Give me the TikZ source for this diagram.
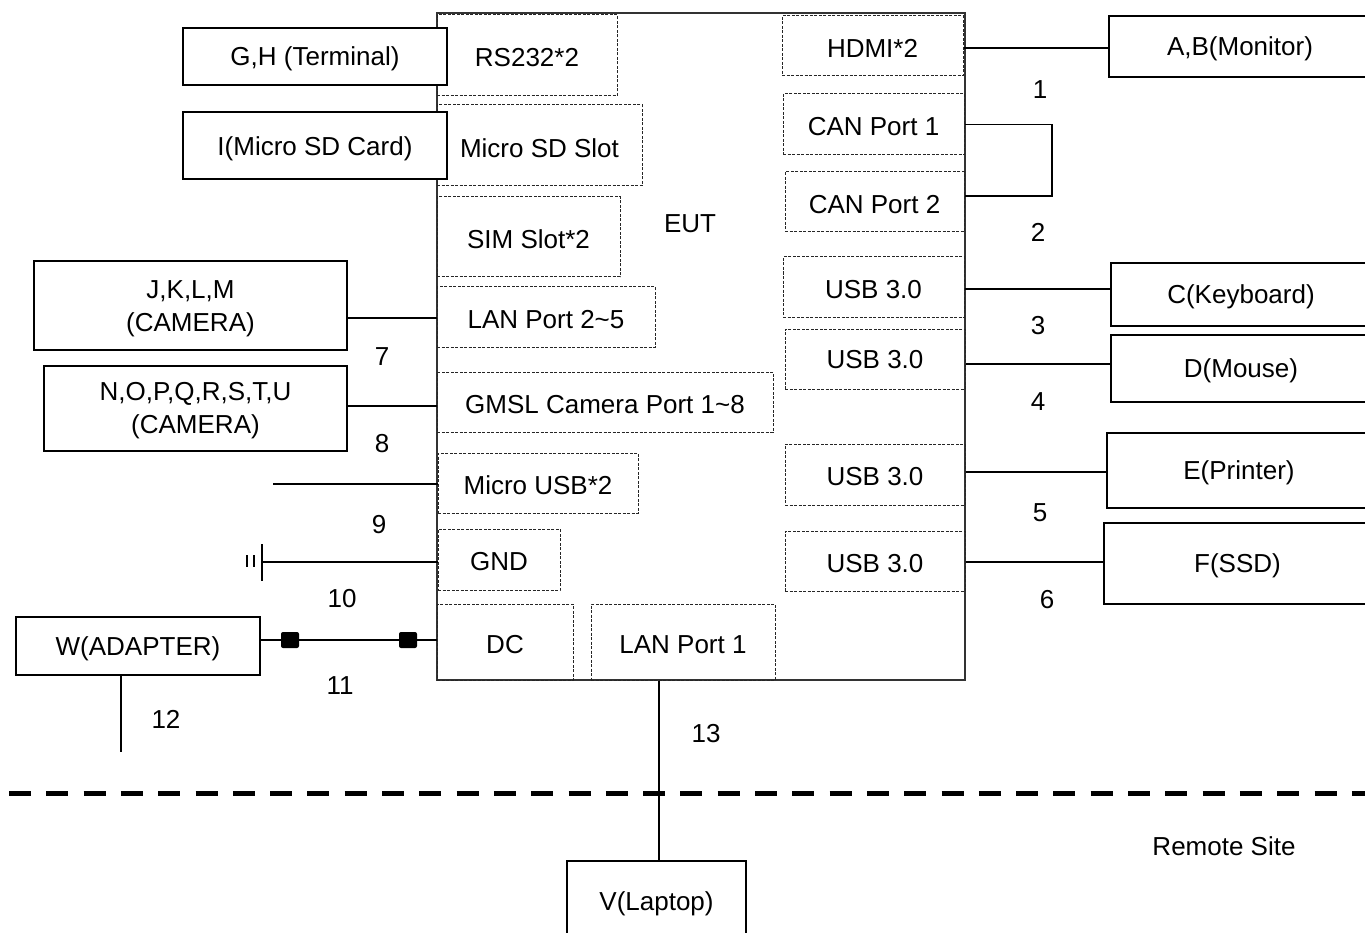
\documentclass[tikz,border=0pt]{standalone}
\usepackage{fontspec}
\setmainfont{Liberation Sans}
\usetikzlibrary{fit,calc}
\begin{document}
\begin{tikzpicture}[x=1pt,y=-1pt,
  every node/.style={font=\fontsize{26}{33}\selectfont, inner sep=0pt},
  t/.style={yshift=-2.5pt},
  port/.style={draw=black!85, line width=1pt, dash pattern=on 3pt off 1.5pt},
  dev/.style={draw=black, line width=1.2pt},
  conn/.style={draw=black, line width=1.6pt},
  sq/.style={fill=black, rounded corners=2pt, minimum width=18pt, minimum height=16pt}]
\useasboundingbox (0,0) rectangle (1365,933);
\clip (0,0) rectangle (1365,933);
% EUT
\node[draw=black!80, line width=1.1pt, fit={(437,13) (965,680)}] (eut) {};
\node[t] (eutl) at (690,221) {EUT};
% left ports
\node[port, fit={(437,15) (617,96)}] (rs) {};
\node[t] at (rs.center) {RS232*2};
\node[port, fit={(437,105) (642,186)}] (sd) {};
\node[t] at (sd.center) {Micro SD Slot};
\node[port, fit={(437,197) (620,277)}] (sim) {};
\node[t] at (sim.center) {SIM Slot*2};
\node[port, fit={(437,287) (655,347)}] (lan25) {};
\node[t] at (lan25.center) {LAN Port 2\textasciitilde5};
\node[port, fit={(437,372) (773,432)}] (gmsl) {};
\node[t] at (gmsl.center) {GMSL Camera Port 1\textasciitilde8};
\node[port, fit={(438,453) (638,513)}] (musb) {};
\node[t] at (musb.center) {Micro USB*2};
\node[port, fit={(438,529) (560,590)}] (gnd) {};
\node[t] at (gnd.center) {GND};
\node[port, fit={(437,604) (573,680)}] (dc) {};
\node[t] at (dc.center) {DC};
\node[port, fit={(591,604) (775,680)}] (lan1) {};
\node[t] at (lan1.center) {LAN Port 1};
% right ports
\node[port, fit={(782,16) (963,76)}] (hdmi) {};
\node[t] at (hdmi.center) {HDMI*2};
\node[port, fit={(783,94) (964,155)}] (can1) {};
\node[t] at (can1.center) {CAN Port 1};
\node[port, fit={(785,172) (964,232)}] (can2) {};
\node[t] at (can2.center) {CAN Port 2};
\node[port, fit={(783,257) (964,317)}] (usba) {};
\node[t] at (usba.center) {USB 3.0};
\node[port, fit={(785,329) (965,389)}] (usbb) {};
\node[t, yshift=2pt] at (usbb.center) {USB 3.0};
\node[port, fit={(785,444) (965,505)}] (usbc) {};
\node[t] at (usbc.center) {USB 3.0};
\node[port, fit={(785,531) (965,591)}] (usbd) {};
\node[t] at (usbd.center) {USB 3.0};
% left devices
\node[dev, fill=white, fit={(183,28) (447,85)}] (term) {};
\node[t] at (term.center) {G,H (Terminal)};
\node[dev, fill=white, fit={(183,112) (447,179)}] (card) {};
\node[t, yshift=-1pt] at (card.center) {I(Micro SD Card)};
\node[dev, fit={(34,261) (347,350)}] (cam1) {};
\node[t, align=center, yshift=-1pt] at (cam1.center) {J,K,L,M\\(CAMERA)};
\node[dev, fit={(44,366) (347,451)}] (cam2) {};
\node[t, align=center] at (cam2.center) {N,O,P,Q,R,S,T,U\\(CAMERA)};
\node[dev, fit={(16,617) (260,675)}] (adp) {};
\node[t] at (adp.center) {W(ADAPTER)};
% right devices
\node[dev, fit={(1109,16) (1371,77)}] (mon) {};
\node[t] at (mon.center) {A,B(Monitor)};
\node[dev, fit={(1111,263) (1371,326)}] (kb) {};
\node[t] at (kb.center) {C(Keyboard)};
\node[dev, fit={(1111,335) (1371,402)}] (mouse) {};
\node[t] at (mouse.center) {D(Mouse)};
\node[dev, fit={(1107,433) (1371,508)}] (prn) {};
\node[t] at (prn.center) {E(Printer)};
\node[dev, fit={(1104,523) (1371,604)}] (ssd) {};
\node[t] at (ssd.center) {F(SSD)};
% laptop
\node[dev, fit={(567,861) (746,941)}] (lap) {};
\node[t] at (lap.center) {V(Laptop)};
% connectors right
\draw[conn] (hdmi.east |- 0,48) -- (mon.west |- 0,48);
\coordinate (canr) at (1052,196);
\draw[conn] (can1.east) -| (canr) -- (canr -| can2.east);
\draw[conn] (usba.east |- 0,289) -- (kb.west |- 0,289);
\draw[conn] (usbb.east |- 0,364) -- (mouse.west |- 0,364);
\draw[conn] (usbc.east |- 0,472) -- (prn.west |- 0,472);
\draw[conn] (usbd.east |- 0,562) -- (ssd.west |- 0,562);
% connectors left
\draw[conn] (lan25.west |- 0,318) -- (cam1.east |- 0,318);
\draw[conn] (gmsl.west |- 0,406) -- (cam2.east |- 0,406);
\coordinate (musbend) at (273,484);
\draw[conn] (musb.west |- musbend) -- (musbend);
\coordinate (gsym) at (262,562);
\draw[conn] (gnd.west |- gsym) -- (gsym);
\draw[conn] ($(gsym)+(0,-18)$) -- ($(gsym)+(0,19)$);
\draw[line width=1.3pt] (247,555) -- (247,567) (254,555) -- (254,567);
\draw[conn] (adp.east |- 0,640) -- (dc.west |- 0,640);
\node[sq] (s1) at (290,640) {};
\node[sq] (s2) at (408,640) {};
\coordinate (a12) at (121,752);
\draw[conn] (a12 |- adp.south) -- (a12);
\draw[conn] (lap.north -| 659,0) -- (lan1.south -| 659,0);
% remote line
\draw[line width=5pt, dash pattern=on 22pt off 15.3pt] (9,793) -- (1370,793);
% labels
\node[t] at (1040,87) {1};
\node[t] at (1038,230) {2};
\node[t] at (1038,323) {3};
\node[t] at (1038,399) {4};
\node[t] at (1040,510) {5};
\node[t] at (1047,597) {6};
\node[t] at (382,354) {7};
\node[t] at (382,441) {8};
\node[t] at (379,522) {9};
\node[t] at (342,596) {10};
\node[t] at (340,683) {11};
\node[t] at (166,717) {12};
\node[t] at (706,731) {13};
\node[t] at (1224,844) {Remote Site};
\end{tikzpicture}
\end{document}
